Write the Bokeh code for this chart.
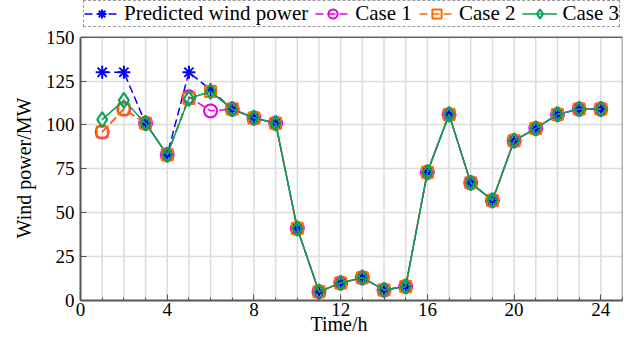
from bokeh.plotting import figure
from bokeh.models import Legend, LegendItem, FixedTicker, ColumnDataSource
from bokeh.embed import file_html
from bokeh.resources import INLINE

hours = list(range(1, 25))
predicted = [130, 130, 101, 83, 130, 120, 109, 104, 101, 41, 5, 10, 13, 6, 8, 73, 106, 67, 57, 91, 98, 106, 109, 109]
case1 = [96, 109, 101, 83, 116, 108, 109, 104, 101, 41, 5, 10, 13, 6, 8, 73, 106, 67, 57, 91, 98, 106, 109, 109]
case2 = [96, 109, 101, 83, 115, 119, 109, 104, 101, 41, 5, 10, 13, 6, 8, 73, 106, 67, 57, 91, 98, 106, 109, 109]
case3 = [103, 114, 101, 83, 115, 119, 109, 104, 101, 41, 5, 10, 13, 6, 8, 73, 106, 67, 57, 91, 98, 106, 109, 109]
series_names = ["Predicted wind power", "Case 1", "Case 2", "Case 3"]
x_ticks = [0, 4, 8, 12, 16, 20, 24]
y_ticks = [0, 25, 50, 75, 100, 125, 150]

FONT = "Liberation Serif"
X_MAX = 25
Y_MAX = y_ticks[-1]
NBSP = "\u00a0"

# layout: frame spans window y 0..303; data y=150 sits at window y=37
W, H = 636, 337
TOP, BOTTOM, LEFT, RIGHT = 0, 34, 80, 14
frame_h = H - TOP - BOTTOM
axis_top_px = 37 - TOP
y_end = Y_MAX * frame_h / (frame_h - axis_top_px)

p = figure(width=W, height=H, x_range=(0, X_MAX), y_range=(0, y_end),
           output_backend="svg", toolbar_location=None,
           min_border_left=LEFT, min_border_right=RIGHT, min_border_top=TOP,
           min_border_bottom=BOTTOM)
p.background_fill_color = "white"
p.border_fill_color = "white"
p.outline_line_color = None

for ax in (p.xaxis[0], p.yaxis[0]):
    ax.axis_line_color = "#555555"
    ax.axis_line_width = 2
    ax.major_tick_in = 6
    ax.major_tick_out = 0
    ax.minor_tick_in = 3
    ax.minor_tick_out = 0
    ax.major_tick_line_color = "#555555"
    ax.minor_tick_line_color = "#555555"
    ax.major_label_text_font = FONT
    ax.major_label_text_font_size = "19px"
    ax.major_label_text_color = "black"
    ax.axis_label_text_font = FONT
    ax.axis_label_text_font_size = "20px"
    ax.axis_label_text_font_style = "normal"
    ax.axis_label_text_color = "black"

p.xaxis.ticker = FixedTicker(ticks=x_ticks, minor_ticks=list(range(0, X_MAX + 1)))
p.yaxis.ticker = FixedTicker(ticks=y_ticks, minor_ticks=[])
p.yaxis.bounds = (0, Y_MAX)
p.xaxis.axis_label = "Time/h" + NBSP * 5
p.yaxis.axis_label = "Wind power/MW" + NBSP * 7
p.xaxis.major_label_standoff = 2
p.xaxis.axis_label_standoff = -6
p.yaxis.major_label_standoff = 6
p.yaxis.axis_label_standoff = 8

# grid restricted to the axes box
p.xgrid.visible = False
p.ygrid.grid_line_color = "#dcdcdc"
p.ygrid.grid_line_width = 1.5
gx = list(range(1, X_MAX))
p.segment(x0=gx, y0=[0] * len(gx), x1=gx, y1=[Y_MAX] * len(gx),
          line_color="#dcdcdc", line_width=1.5)
# box top and right edges
p.segment(x0=[0, X_MAX], y0=[Y_MAX, 0], x1=[X_MAX, X_MAX], y1=[Y_MAX, Y_MAX],
          line_color="#666666", line_width=1.5)

colors = ["#0000ff", "#e600e6", "#ff6a00", "#00a550"]
dashes = ["8 4", "8 4", "8 4", "solid"]
markers = ["asterisk", "circle", "square", "diamond"]
sizes = [13, 13, 11, 15]
data = [predicted, case1, case2, case3]

items = []
for name, vals, c, d, m, s in zip(series_names, data, colors, dashes, markers, sizes):
    src = ColumnDataSource(dict(x=hours, y=vals))
    r1 = p.line("x", "y", source=src, line_color=c, line_width=1.5, line_dash=d)
    r2 = p.scatter("x", "y", source=src, marker=m, size=s, line_color=c, line_width=2,
                   fill_color=None)
    items.append(LegendItem(label=name, renderers=[r1, r2]))

legend = Legend(items=items, orientation="horizontal",
                location=(3, frame_h - axis_top_px + 7))
legend.label_text_font = FONT
legend.label_text_font_size = "21px"
legend.label_text_color = "black"
legend.border_line_color = "#333333"
legend.border_line_dash = "4 3"
legend.border_line_width = 1.2
legend.background_fill_color = "white"
legend.background_fill_alpha = 1
legend.glyph_width = 35
legend.glyph_height = 23
legend.label_standoff = 5
legend.spacing = 7
legend.padding = 0
legend.margin = 0
legend.label_height = 21
p.add_layout(legend, "center")

open("out.html", "w").write(file_html(p, INLINE))
